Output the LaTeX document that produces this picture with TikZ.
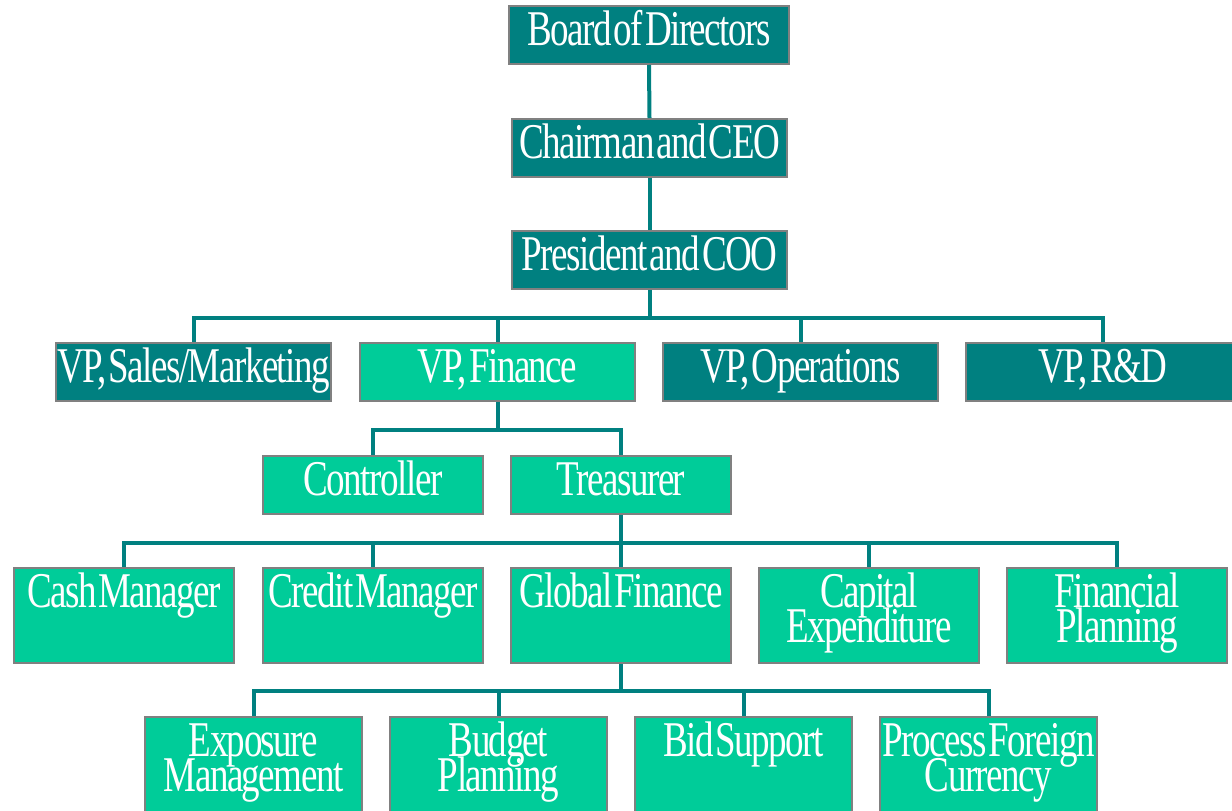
\documentclass[tikz,border=0pt]{standalone}
\usepackage{fontspec}
\newfontfamily\condfont[FakeStretch=0.74,LetterSpace=-3]{Liberation Serif}
\newcommand\boxfont{\condfont\fontsize{50}{35}\selectfont\lineskiplimit=-60pt\relax}
\newcommand\ws{\nobreak\hspace{2pt}\nobreak}
\definecolor{dteal}{HTML}{008080}
\definecolor{lteal}{HTML}{00CC99}
\definecolor{bgray}{HTML}{808080}
\begin{document}
\begin{tikzpicture}[x=1pt,y=-1pt,
  box/.style={draw=bgray, line width=2pt, inner sep=0pt, text=white,
    font=\boxfont, align=center, anchor=north, text height=39pt},
  row/.style={box, text depth=19pt},
  tall/.style={box, text depth=56pt},
  dark/.style={fill=dteal},
  light/.style={fill=lteal},
  conn/.style={draw=dteal, line width=4pt}]
\useasboundingbox (0,0) rectangle (1232,811);
% top chain
\node[row,dark,text width=280pt] (board) at (649,5) {Board\ws of\ws Directors};
\node[row,dark,text width=275pt] (ceo) at (649.5,118) {Chairman\ws and\ws CEO};
\node[row,dark,text width=275pt] (pres) at (649.5,230) {President\ws and\ws COO};
% VPs
\node[row,dark,text width=275pt] (vps) at (193.5,342) {VP,\ws Sales/Marketing};
\node[row,light,text width=275pt] (vpf) at (497.5,342) {VP,\ws Finance};
\node[row,dark,text width=275pt] (vpo) at (800.5,342) {VP,\ws Operations};
\node[row,dark,text width=275pt] (vpr) at (1103,342) {VP,\ws R\&D};
% finance
\node[row,light,text width=220pt] (ctrl) at (373,455) {Controller};
\node[row,light,text width=220pt] (treas) at (621,455) {Treasurer};
% treasurer row
\node[tall,light,text width=220pt] (cash) at (124,567) {Cash\ws Manager};
\node[tall,light,text width=220pt] (credit) at (373,567) {Credit\ws Manager};
\node[tall,light,text width=220pt] (glob) at (621,567) {Global\ws Finance};
\node[tall,light,text width=220pt] (capex) at (869,567) {Capital\\Expenditure};
\node[tall,light,text width=220pt] (finpl) at (1117,567) {Financial\\Planning};
% global finance row
\node[tall,light,text width=217pt] (expo) at (253.5,716) {Exposure\\Management};
\node[tall,light,text width=217pt] (budget) at (498.5,716) {Budget\\Planning};
\node[tall,light,text width=217pt] (bid) at (743.5,716) {Bid\ws Support};
\node[tall,light,text width=217pt] (pfc) at (988.5,716) {Process\ws Foreign\\Currency};
% connectors
\draw[conn] (board.south) -- (ceo.north);
\draw[conn] (ceo.south) -- (pres.north);
\foreach \c in {vps,vpf,vpo,vpr}
  \draw[conn] (pres.south) -- ++(0,28) -| (\c.north);
\foreach \c in {ctrl,treas}
  \draw[conn] (vpf.south) -- ++(0,28) -| (\c.north);
\foreach \c in {cash,credit,glob,capex,finpl}
  \draw[conn] (treas.south) -- ++(0,28) -| (\c.north);
\foreach \c in {expo,budget,bid,pfc}
  \draw[conn] (glob.south) -- ++(0,27) -| (\c.north);
\end{tikzpicture}
\end{document}
